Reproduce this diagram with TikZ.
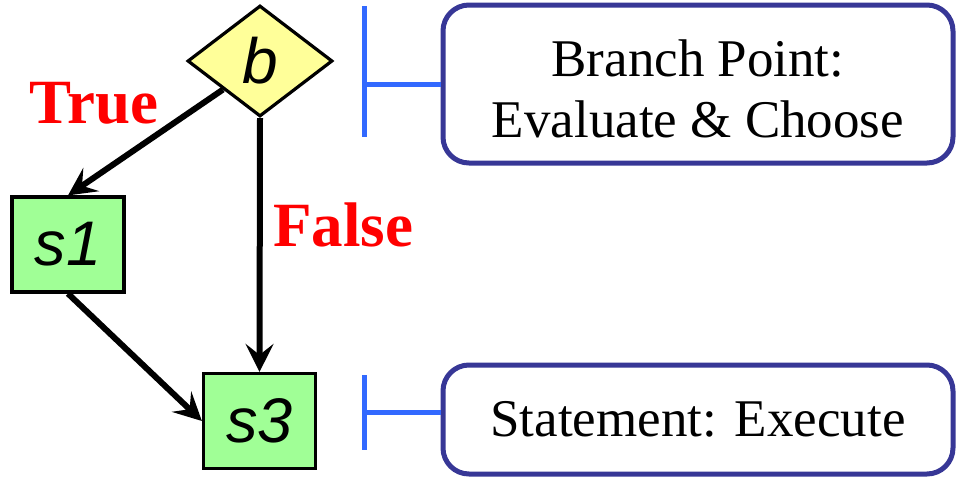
\documentclass[tikz,border=0pt]{standalone}
\usepackage{fontspec}
\setmainfont{Liberation Serif}
\newfontfamily\labelfont{Liberation Sans}
\usetikzlibrary{shapes.geometric,arrows.meta}
\definecolor{condfill}{RGB}{255,255,153}
\definecolor{stmtfill}{RGB}{160,255,150}
\definecolor{noteframe}{RGB}{55,55,150}
\definecolor{bracketblue}{RGB}{50,105,255}
\begin{document}
\begin{tikzpicture}[x=1pt,y=-1pt,
  cond/.style={diamond, draw=black, line width=3.2pt, fill=condfill,
    inner sep=0pt, minimum width=145pt, minimum height=111pt,
    font=\labelfont\itshape\fontsize{64}{64}\selectfont},
  stmt/.style={rectangle, draw=black, line width=3.2pt, fill=stmtfill,
    inner sep=0pt, minimum width=112pt, minimum height=95pt,
    font=\labelfont\itshape\fontsize{63}{63}\selectfont},
  note/.style={rectangle, rounded corners=26pt, draw=noteframe, line width=5pt,
    fill=white, inner sep=0pt, minimum width=510pt, align=center,
    font=\fontsize{53}{61}\selectfont},
  flow/.style={line width=6pt, draw=black,
    -{Stealth[length=28pt, width=28pt, inset=11pt]}},
  brace/.style={line width=5pt, draw=bracketblue},
  branchlabel/.style={text=red, font=\bfseries\fontsize{63}{63}\selectfont,
    inner sep=0pt}]
  \useasboundingbox (0,0) rectangle (956,477);

  % flow graph
  \node[cond] (b) at (260,61) {b};
  \node[stmt] (s1) at (68,244.5) {s1};
  \node[stmt] (s3) at (259.5,421) {s3};

  \draw[flow] (b.south west) -- (s1.north);
  \draw[flow] (b.south) -- (s3.north);
  \draw[flow] (s1.south) -- (s3.west);

  \node[branchlabel] (lt) at (94,103) {True};
  \node[branchlabel] (lf) at (343,225) {False};

  % explanatory notes
  \node[note, minimum height=158pt, text height=107pt] (n1) at (698,84) {Branch Point:\\Evaluate \& Choose};
  \node[note, minimum height=109pt] (n2) at (698,419.5) {Statement: Execute};

  \coordinate (k1top) at (364,6);
  \coordinate (k1bot) at (364,137);
  \draw[brace] (k1top) -- (k1bot);
  \draw[brace] (n1.west -| k1top) -- (n1.west);

  \coordinate (k2top) at (364,375);
  \coordinate (k2bot) at (364,450);
  \draw[brace] (k2top) -- (k2bot);
  \draw[brace] (364,412) coordinate (k2mid) -- (k2mid -| n2.west);
\end{tikzpicture}
\end{document}
